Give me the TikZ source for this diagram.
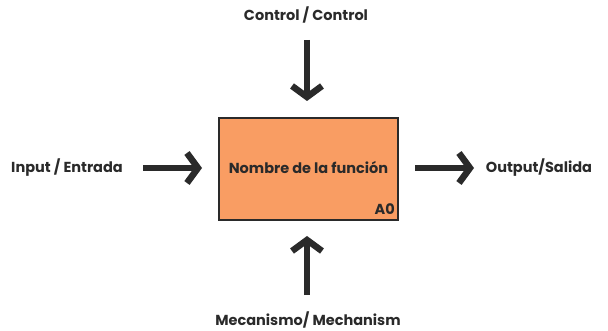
\documentclass[tikz,border=0pt]{standalone}
\usepackage{fontspec}
\setmainfont{Poppins}
\usetikzlibrary{arrows.meta}
\definecolor{boxfill}{HTML}{F99D63}
\definecolor{ink}{HTML}{2A2A2A}
\tikzset{
  lbl/.style={font=\fontsize{14.5}{16}\selectfont\bfseries, text=ink, inner sep=0pt},
  flow/.style={line width=6pt, draw=ink, -{Straight Barb[length=11pt, width=30pt, line width=6.5pt]}},
  fbox/.style={draw=ink, line width=1.3pt, fill=boxfill, minimum width=179pt, minimum height=102pt, inner sep=0pt}
}
\begin{document}
\begin{tikzpicture}[x=1pt,y=-1pt]
\useasboundingbox (0,0) rectangle (608,331);
\node[fbox] (f) at (308.5,169) {};
\node[lbl] (fn) at (308.5,168) {Nombre de la función};
\node[lbl, anchor=south east] (a0) at (395,215) {A0};
\node[lbl] (ctl) at (306,15) {Control / Control};
\node[lbl] (in) at (67,168) {Input / Entrada};
\node[lbl] (out) at (539,168) {Output/Salida};
\node[lbl] (mec) at (308,320) {Mecanismo/ Mechanism};
\coordinate (c1) at (307,40);
\coordinate (c2) at (307,101);
\coordinate (i1) at (143,168);
\coordinate (i2) at (202,168);
\coordinate (o1) at (415,168);
\coordinate (o2) at (474,168);
\coordinate (m1) at (307,295);
\coordinate (m2) at (307,236);
\draw[flow] (c1) -- (c2);
\draw[flow] (i1) -- (i2);
\draw[flow] (o1) -- (o2);
\draw[flow] (m1) -- (m2);
\end{tikzpicture}
\end{document}
